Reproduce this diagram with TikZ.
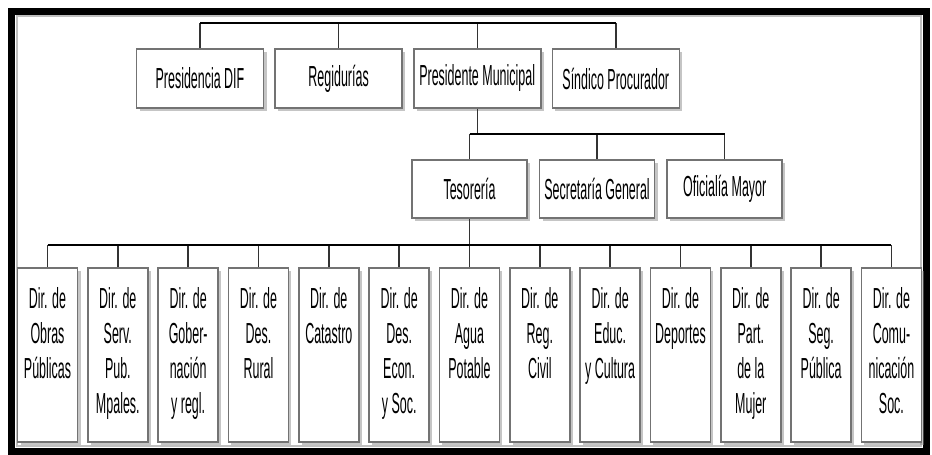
\documentclass[tikz,border=0pt]{standalone}
\usepackage{fontspec}
\newfontfamily\orgfont[FakeStretch=0.43]{Liberation Sans}
\usetikzlibrary{positioning,shadows}
\newcommand{\dirtext}[1]{\parbox[t][174pt][t]{60pt}{\centering\vspace*{19pt}#1}}

\begin{document}
\begin{tikzpicture}[x=1pt, y=-1pt,
  box/.style={draw=black!55, line width=1.6pt, fill=white, inner sep=0pt,
    font=\orgfont\fontsize{29}{35}\selectfont,
    drop shadow={shadow xshift=3pt, shadow yshift=-3pt, fill=black!45, opacity=0.5}},
  topbox/.style={box, minimum width=127pt, minimum height=59pt},
  midbox/.style={box, minimum width=115pt, minimum height=58pt},
  bus/.style={line width=2.6pt},
  drop/.style={line width=1.4pt, black!80}
]
  \useasboundingbox (0,0) rectangle (932,455);
  \draw[line width=7pt] (11.5,11) rectangle (926.5,451);
  \draw[black!25, line width=2pt] (17,16) rectangle (921,446);

  \node[topbox] (dif) at (200,78.5) {Presidencia DIF};
  \node[topbox, right=10pt of dif] (reg) {Regidurías};
  \node[topbox, right=10pt of reg] (pres) {Presidente Municipal};
  \node[topbox, right=10pt of pres] (sin) {Síndico Procurador};

  \node[midbox] (tes) at (469.5,189) {Tesorería};
  \node[midbox, right=11pt of tes] (sec) {Secretaría General};
  \node[midbox, right=11pt of sec] (ofi) {Oficialía Mayor};

  \foreach \txt [count=\i] in {{Dir. de\\Obras\\Públicas}, {Dir. de\\Serv.\\Pub.\\Mpales.},
      {Dir. de\\Gober-\\nación\\y regl.}, {Dir. de\\Des.\\Rural}, {Dir. de\\Catastro},
      {Dir. de\\Des.\\Econ.\\y Soc.}, {Dir. de\\Agua\\Potable}, {Dir. de\\Reg.\\Civil},
      {Dir. de\\Educ.\\y Cultura}, {Dir. de\\Deportes}, {Dir. de\\Part.\\de la\\Mujer},
      {Dir. de\\Seg.\\Pública}, {Dir. de\\Comu-\\nicación\\Soc.}}
    \node[box] (d\i) at ({47.5+70.33*(\i-1)},355) {\dirtext{\txt}};

  \coordinate (topbus) at (0,23);
  \coordinate (midbus) at (0,134);
  \coordinate (lowbus) at (0,245);

  \foreach \n in {dif,reg,pres,sin}
    \draw[drop] (\n.north) -- (\n.north |- topbus);
  \draw[bus] (dif.north |- topbus) -- (sin.north |- topbus);

  \draw[drop] (pres.south) -- (pres.south |- midbus);
  \foreach \n in {tes,sec,ofi}
    \draw[drop] (\n.north) -- (\n.north |- midbus);
  \draw[bus] (tes.north |- midbus) -- (ofi.north |- midbus);

  \draw[drop] (tes.south) -- (tes.south |- lowbus);
  \foreach \i in {1,...,13}
    \draw[drop] (d\i.north) -- (d\i.north |- lowbus);
  \draw[bus] (d1.north |- lowbus) -- (d13.north |- lowbus);
\end{tikzpicture}
\end{document}
